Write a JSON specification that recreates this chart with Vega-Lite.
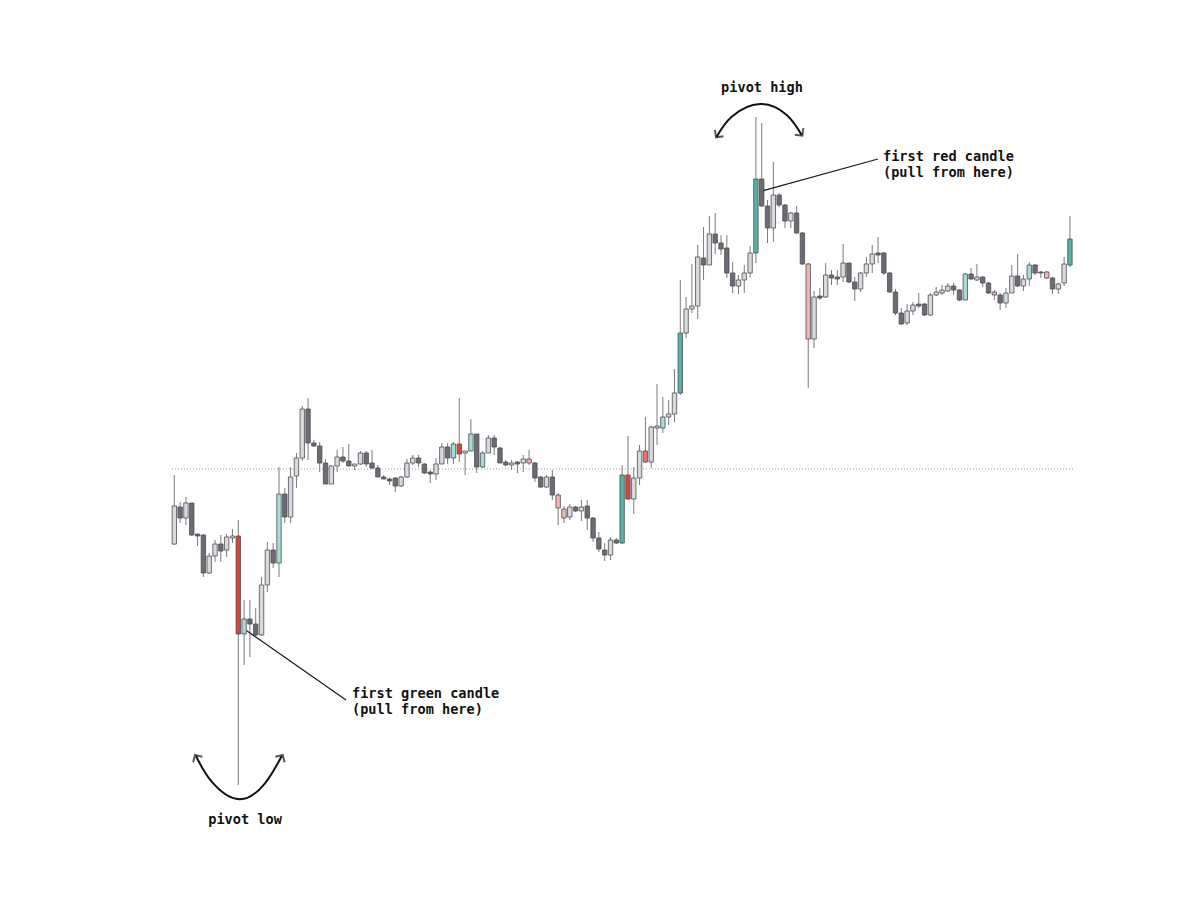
{
  "$schema": "https://vega.github.io/schema/vega-lite/v6.json",
  "width": 1200,
  "height": 901,
  "autosize": {"type": "none"},
  "padding": 0,
  "background": "#ffffff",
  "config": {"view": {"stroke": null}},
  "datasets": {
    "candles": [
      {"i":0,"o":456,"h":525,"l":455,"c":494,"k":"up"},
      {"i":1,"o":493,"h":498,"l":477,"c":482,"k":"down"},
      {"i":2,"o":482,"h":503,"l":475,"c":497,"k":"up"},
      {"i":3,"o":497,"h":497,"l":464,"c":465,"k":"down"},
      {"i":4,"o":466,"h":466,"l":454,"c":464,"k":"down"},
      {"i":5,"o":465,"h":466,"l":423,"c":427,"k":"down"},
      {"i":6,"o":427,"h":447,"l":426,"c":444,"k":"up"},
      {"i":7,"o":444,"h":460,"l":438,"c":456,"k":"up"},
      {"i":8,"o":456,"h":465,"l":438,"c":449,"k":"down"},
      {"i":9,"o":450,"h":466,"l":443,"c":463,"k":"up"},
      {"i":10,"o":462,"h":471,"l":457,"c":464,"k":"up"},
      {"i":11,"o":464,"h":480,"l":215,"c":366,"k":"red"},
      {"i":12,"o":366,"h":400,"l":335,"c":381,"k":"lteal"},
      {"i":13,"o":381,"h":400,"l":343,"c":376,"k":"down"},
      {"i":14,"o":376,"h":392,"l":364,"c":365,"k":"down"},
      {"i":15,"o":365,"h":423,"l":364,"c":415,"k":"up"},
      {"i":16,"o":415,"h":458,"l":408,"c":450,"k":"up"},
      {"i":17,"o":450,"h":457,"l":432,"c":437,"k":"down"},
      {"i":18,"o":437,"h":533,"l":423,"c":506,"k":"lteal"},
      {"i":19,"o":506,"h":512,"l":477,"c":483,"k":"down"},
      {"i":20,"o":483,"h":533,"l":477,"c":523,"k":"up"},
      {"i":21,"o":524,"h":547,"l":512,"c":542,"k":"up"},
      {"i":22,"o":542,"h":594,"l":539,"c":591,"k":"up"},
      {"i":23,"o":591,"h":602,"l":540,"c":557,"k":"down"},
      {"i":24,"o":557,"h":560,"l":553,"c":554,"k":"down"},
      {"i":25,"o":554,"h":558,"l":528,"c":537,"k":"down"},
      {"i":26,"o":537,"h":541,"l":516,"c":516,"k":"down"},
      {"i":27,"o":516,"h":535,"l":516,"c":534,"k":"up"},
      {"i":28,"o":534,"h":550,"l":528,"c":543,"k":"up"},
      {"i":29,"o":543,"h":553,"l":537,"c":539,"k":"down"},
      {"i":30,"o":539,"h":556,"l":534,"c":534,"k":"down"},
      {"i":31,"o":534,"h":536,"l":530,"c":536,"k":"up"},
      {"i":32,"o":536,"h":549,"l":535,"c":547,"k":"up"},
      {"i":33,"o":547,"h":549,"l":533,"c":536,"k":"down"},
      {"i":34,"o":537,"h":550,"l":531,"c":532,"k":"down"},
      {"i":35,"o":532,"h":535,"l":523,"c":523,"k":"down"},
      {"i":36,"o":523,"h":525,"l":521,"c":521,"k":"down"},
      {"i":37,"o":521,"h":522,"l":515,"c":519,"k":"down"},
      {"i":38,"o":522,"h":523,"l":508,"c":514,"k":"down"},
      {"i":39,"o":514,"h":524,"l":513,"c":523,"k":"up"},
      {"i":40,"o":523,"h":541,"l":522,"c":537,"k":"up"},
      {"i":41,"o":537,"h":545,"l":535,"c":542,"k":"up"},
      {"i":42,"o":542,"h":545,"l":533,"c":537,"k":"down"},
      {"i":43,"o":536,"h":537,"l":526,"c":527,"k":"down"},
      {"i":44,"o":528,"h":530,"l":517,"c":526,"k":"down"},
      {"i":45,"o":526,"h":542,"l":520,"c":536,"k":"up"},
      {"i":46,"o":536,"h":557,"l":536,"c":553,"k":"up"},
      {"i":47,"o":553,"h":557,"l":536,"c":542,"k":"down"},
      {"i":48,"o":542,"h":558,"l":536,"c":556,"k":"lteal"},
      {"i":49,"o":556,"h":602,"l":538,"c":546,"k":"red"},
      {"i":50,"o":547,"h":549,"l":525,"c":549,"k":"up"},
      {"i":51,"o":549,"h":581,"l":549,"c":566,"k":"lteal"},
      {"i":52,"o":566,"h":566,"l":527,"c":533,"k":"down"},
      {"i":53,"o":533,"h":549,"l":532,"c":547,"k":"lteal"},
      {"i":54,"o":547,"h":565,"l":547,"c":562,"k":"up"},
      {"i":55,"o":562,"h":565,"l":545,"c":553,"k":"down"},
      {"i":56,"o":552,"h":553,"l":537,"c":537,"k":"down"},
      {"i":57,"o":538,"h":540,"l":534,"c":535,"k":"down"},
      {"i":58,"o":535,"h":540,"l":530,"c":537,"k":"up"},
      {"i":59,"o":538,"h":539,"l":527,"c":536,"k":"down"},
      {"i":60,"o":537,"h":545,"l":528,"c":541,"k":"up"},
      {"i":61,"o":541,"h":550,"l":535,"c":537,"k":"lred"},
      {"i":62,"o":537,"h":538,"l":518,"c":522,"k":"down"},
      {"i":63,"o":523,"h":524,"l":512,"c":513,"k":"down"},
      {"i":64,"o":513,"h":525,"l":512,"c":523,"k":"up"},
      {"i":65,"o":523,"h":530,"l":500,"c":505,"k":"down"},
      {"i":66,"o":505,"h":507,"l":475,"c":492,"k":"lred"},
      {"i":67,"o":491,"h":494,"l":477,"c":482,"k":"lred"},
      {"i":68,"o":483,"h":496,"l":480,"c":493,"k":"up"},
      {"i":69,"o":493,"h":494,"l":488,"c":489,"k":"down"},
      {"i":70,"o":489,"h":500,"l":479,"c":493,"k":"up"},
      {"i":71,"o":494,"h":500,"l":470,"c":482,"k":"down"},
      {"i":72,"o":482,"h":483,"l":458,"c":462,"k":"down"},
      {"i":73,"o":462,"h":468,"l":448,"c":451,"k":"down"},
      {"i":74,"o":450,"h":457,"l":439,"c":445,"k":"down"},
      {"i":75,"o":445,"h":463,"l":440,"c":460,"k":"up"},
      {"i":76,"o":460,"h":462,"l":456,"c":457,"k":"down"},
      {"i":77,"o":457,"h":535,"l":456,"c":525,"k":"teal"},
      {"i":78,"o":525,"h":564,"l":500,"c":501,"k":"red"},
      {"i":79,"o":501,"h":533,"l":486,"c":522,"k":"up"},
      {"i":80,"o":522,"h":555,"l":515,"c":549,"k":"up"},
      {"i":81,"o":549,"h":583,"l":537,"c":538,"k":"mred"},
      {"i":82,"o":538,"h":574,"l":532,"c":573,"k":"up"},
      {"i":83,"o":572,"h":616,"l":555,"c":574,"k":"up"},
      {"i":84,"o":572,"h":603,"l":567,"c":583,"k":"lteal"},
      {"i":85,"o":583,"h":600,"l":575,"c":586,"k":"up"},
      {"i":86,"o":586,"h":631,"l":578,"c":607,"k":"up"},
      {"i":87,"o":607,"h":720,"l":605,"c":667,"k":"teal"},
      {"i":88,"o":667,"h":703,"l":662,"c":691,"k":"up"},
      {"i":89,"o":691,"h":736,"l":687,"c":694,"k":"up"},
      {"i":90,"o":694,"h":755,"l":681,"c":743,"k":"up"},
      {"i":91,"o":742,"h":773,"l":720,"c":735,"k":"down"},
      {"i":92,"o":735,"h":784,"l":735,"c":766,"k":"up"},
      {"i":93,"o":766,"h":787,"l":746,"c":757,"k":"down"},
      {"i":94,"o":757,"h":765,"l":745,"c":751,"k":"down"},
      {"i":95,"o":752,"h":765,"l":722,"c":727,"k":"down"},
      {"i":96,"o":727,"h":738,"l":707,"c":714,"k":"down"},
      {"i":97,"o":714,"h":725,"l":706,"c":720,"k":"up"},
      {"i":98,"o":720,"h":735,"l":707,"c":727,"k":"up"},
      {"i":99,"o":727,"h":754,"l":723,"c":747,"k":"up"},
      {"i":100,"o":747,"h":883,"l":737,"c":821,"k":"teal"},
      {"i":101,"o":821,"h":877,"l":793,"c":794,"k":"down"},
      {"i":102,"o":794,"h":800,"l":757,"c":772,"k":"down"},
      {"i":103,"o":772,"h":838,"l":758,"c":805,"k":"up"},
      {"i":104,"o":805,"h":807,"l":793,"c":795,"k":"down"},
      {"i":105,"o":795,"h":796,"l":772,"c":779,"k":"down"},
      {"i":106,"o":779,"h":788,"l":772,"c":787,"k":"up"},
      {"i":107,"o":787,"h":794,"l":766,"c":767,"k":"down"},
      {"i":108,"o":767,"h":768,"l":735,"c":736,"k":"down"},
      {"i":109,"o":736,"h":737,"l":612,"c":661,"k":"lred"},
      {"i":110,"o":661,"h":709,"l":652,"c":703,"k":"up"},
      {"i":111,"o":704,"h":712,"l":700,"c":702,"k":"down"},
      {"i":112,"o":703,"h":737,"l":702,"c":725,"k":"up"},
      {"i":113,"o":725,"h":730,"l":715,"c":722,"k":"down"},
      {"i":114,"o":723,"h":730,"l":715,"c":721,"k":"down"},
      {"i":115,"o":723,"h":756,"l":718,"c":737,"k":"up"},
      {"i":116,"o":737,"h":737,"l":717,"c":718,"k":"down"},
      {"i":117,"o":718,"h":723,"l":699,"c":711,"k":"down"},
      {"i":118,"o":711,"h":728,"l":708,"c":727,"k":"up"},
      {"i":119,"o":727,"h":743,"l":723,"c":736,"k":"up"},
      {"i":120,"o":736,"h":755,"l":727,"c":746,"k":"up"},
      {"i":121,"o":747,"h":763,"l":737,"c":745,"k":"down"},
      {"i":122,"o":747,"h":748,"l":725,"c":727,"k":"down"},
      {"i":123,"o":727,"h":728,"l":707,"c":708,"k":"down"},
      {"i":124,"o":708,"h":711,"l":685,"c":687,"k":"down"},
      {"i":125,"o":687,"h":692,"l":675,"c":676,"k":"down"},
      {"i":126,"o":677,"h":696,"l":675,"c":689,"k":"up"},
      {"i":127,"o":689,"h":698,"l":685,"c":695,"k":"up"},
      {"i":128,"o":696,"h":707,"l":692,"c":694,"k":"down"},
      {"i":129,"o":696,"h":697,"l":684,"c":685,"k":"down"},
      {"i":130,"o":685,"h":707,"l":684,"c":705,"k":"up"},
      {"i":131,"o":705,"h":713,"l":704,"c":708,"k":"up"},
      {"i":132,"o":707,"h":715,"l":705,"c":710,"k":"up"},
      {"i":133,"o":709,"h":717,"l":708,"c":714,"k":"up"},
      {"i":134,"o":714,"h":717,"l":705,"c":710,"k":"down"},
      {"i":135,"o":710,"h":711,"l":699,"c":700,"k":"down"},
      {"i":136,"o":700,"h":727,"l":700,"c":726,"k":"lteal"},
      {"i":137,"o":726,"h":732,"l":720,"c":721,"k":"down"},
      {"i":138,"o":720,"h":736,"l":719,"c":723,"k":"up"},
      {"i":139,"o":723,"h":724,"l":713,"c":717,"k":"down"},
      {"i":140,"o":717,"h":718,"l":706,"c":707,"k":"down"},
      {"i":141,"o":708,"h":710,"l":700,"c":705,"k":"lred"},
      {"i":142,"o":705,"h":707,"l":690,"c":697,"k":"down"},
      {"i":143,"o":697,"h":712,"l":692,"c":707,"k":"up"},
      {"i":144,"o":707,"h":735,"l":707,"c":724,"k":"up"},
      {"i":145,"o":724,"h":746,"l":713,"c":714,"k":"down"},
      {"i":146,"o":714,"h":725,"l":709,"c":721,"k":"up"},
      {"i":147,"o":721,"h":738,"l":714,"c":735,"k":"lteal"},
      {"i":148,"o":735,"h":736,"l":725,"c":727,"k":"down"},
      {"i":149,"o":728,"h":729,"l":722,"c":727,"k":"down"},
      {"i":150,"o":728,"h":729,"l":721,"c":722,"k":"lred"},
      {"i":151,"o":722,"h":723,"l":706,"c":711,"k":"down"},
      {"i":152,"o":711,"h":717,"l":706,"c":716,"k":"up"},
      {"i":153,"o":717,"h":743,"l":714,"c":736,"k":"up"},
      {"i":154,"o":735,"h":784,"l":733,"c":761,"k":"teal"}
    ],
    "level": [
      {"price": 531, "from": -0.4, "to": 154.8}
    ],
    "callouts": [
      {"name": "red", "i1": 101.27, "p1": 809.3, "i2": 120.99, "p2": 841},
      {"name": "green", "i1": 12.45, "p1": 369.3, "i2": 29.52, "p2": 300}
    ],
    "arcs": [
      {"arc": "high", "s": 0, "i": 93.26, "p": 863.3},
      {"arc": "high", "s": 1, "i": 95.84, "p": 883.3},
      {"arc": "high", "s": 2, "i": 100.71, "p": 896},
      {"arc": "high", "s": 3, "i": 105.3, "p": 885},
      {"arc": "high", "s": 4, "i": 107.87, "p": 865},
      {"arc": "low", "s": 0, "i": 3.73, "p": 244},
      {"arc": "low", "s": 1, "i": 6.43, "p": 218.3},
      {"arc": "low", "s": 2, "i": 11.18, "p": 200.7},
      {"arc": "low", "s": 3, "i": 15.59, "p": 216.7},
      {"arc": "low", "s": 4, "i": 18.47, "p": 244}
    ],
    "notesLeft": [
      {"i": 121.85, "p": 843, "t": "first red candle"},
      {"i": 121.85, "p": 827, "t": "(pull from here)"},
      {"i": 30.55, "p": 306, "t": "first green candle"},
      {"i": 30.55, "p": 290, "t": "(pull from here)"}
    ],
    "notesCenter": [
      {"i": 101.05, "p": 912, "t": "pivot high"},
      {"i": 12.16, "p": 180, "t": "pivot low"}
    ]
  },
  "layer": [
    {
      "data": {"name": "level"},
      "mark": {"type": "rule", "color": "#9a9a9a", "strokeWidth": 1, "strokeDash": [1, 2]},
      "encoding": {
        "x": {"field": "from", "type": "quantitative", "scale": {"domain": [-29.97, 176.36], "padding": 0}, "axis": null},
        "x2": {"field": "to"},
        "y": {"field": "price", "type": "quantitative", "scale": {"domain": [99, 1000]}, "axis": null}
      }
    },
    {
      "data": {"name": "candles"},
      "mark": {"type": "rule", "color": "#7a7a7a", "strokeWidth": 1},
      "encoding": {
        "x": {"field": "i", "type": "quantitative", "scale": {"domain": [-29.97, 176.36], "padding": 0}, "axis": null},
        "y": {"field": "l", "type": "quantitative", "scale": {"domain": [99, 1000]}, "axis": null},
        "y2": {"field": "h"}
      }
    },
    {
      "data": {"name": "candles"},
      "mark": {"type": "bar", "width": 4.4, "stroke": "#4d4d54", "strokeWidth": 0.8},
      "encoding": {
        "x": {"field": "i", "type": "quantitative", "scale": {"domain": [-29.97, 176.36], "padding": 0}, "axis": null},
        "y": {"field": "o", "type": "quantitative", "scale": {"domain": [99, 1000]}, "axis": null},
        "y2": {"field": "c"},
        "color": {
          "field": "k",
          "type": "nominal",
          "legend": null,
          "scale": {
            "domain": ["up", "down", "teal", "lteal", "red", "lred", "mred"],
            "range": ["#d9d9de", "#6c6c74", "#56b2a7", "#a7ddd6", "#d8463a", "#f4b4b0", "#e2776a"]
          }
        }
      }
    },
    {
      "data": {"name": "callouts"},
      "mark": {"type": "rule", "color": "#1a1a1a", "strokeWidth": 1.2},
      "encoding": {
        "x": {"field": "i1", "type": "quantitative", "scale": {"domain": [-29.97, 176.36], "padding": 0}, "axis": null},
        "x2": {"field": "i2"},
        "y": {"field": "p1", "type": "quantitative", "scale": {"domain": [99, 1000]}, "axis": null},
        "y2": {"field": "p2"}
      }
    },
    {
      "data": {"name": "arcs"},
      "mark": {"type": "line", "color": "#111111", "strokeWidth": 2, "interpolate": "natural"},
      "encoding": {
        "x": {"field": "i", "type": "quantitative", "scale": {"domain": [-29.97, 176.36], "padding": 0}, "axis": null},
        "y": {"field": "p", "type": "quantitative", "scale": {"domain": [99, 1000]}, "axis": null},
        "detail": {"field": "arc", "type": "nominal"},
        "order": {"field": "s", "type": "quantitative"}
      }
    },
    {
      "data": {"values": [{"i": 93.14, "p": 862.7}]},
      "mark": {"type": "point", "shape": "M-0.8,0.8L0,0L0.8,0.8", "size": 180, "filled": false, "stroke": "#111111", "strokeWidth": 2, "angle": 217},
      "encoding": {
        "x": {"field": "i", "type": "quantitative", "scale": {"domain": [-29.97, 176.36], "padding": 0}, "axis": null},
        "y": {"field": "p", "type": "quantitative", "scale": {"domain": [99, 1000]}, "axis": null}
      }
    },
    {
      "data": {"values": [{"i": 107.98, "p": 864.3}]},
      "mark": {"type": "point", "shape": "M-0.8,0.8L0,0L0.8,0.8", "size": 180, "filled": false, "stroke": "#111111", "strokeWidth": 2, "angle": 143},
      "encoding": {
        "x": {"field": "i", "type": "quantitative", "scale": {"domain": [-29.97, 176.36], "padding": 0}, "axis": null},
        "y": {"field": "p", "type": "quantitative", "scale": {"domain": [99, 1000]}, "axis": null}
      }
    },
    {
      "data": {"values": [{"i": 3.56, "p": 245}]},
      "mark": {"type": "point", "shape": "M-0.8,0.8L0,0L0.8,0.8", "size": 180, "filled": false, "stroke": "#111111", "strokeWidth": 2, "angle": 329},
      "encoding": {
        "x": {"field": "i", "type": "quantitative", "scale": {"domain": [-29.97, 176.36], "padding": 0}, "axis": null},
        "y": {"field": "p", "type": "quantitative", "scale": {"domain": [99, 1000]}, "axis": null}
      }
    },
    {
      "data": {"values": [{"i": 18.64, "p": 245}]},
      "mark": {"type": "point", "shape": "M-0.8,0.8L0,0L0.8,0.8", "size": 180, "filled": false, "stroke": "#111111", "strokeWidth": 2, "angle": 31},
      "encoding": {
        "x": {"field": "i", "type": "quantitative", "scale": {"domain": [-29.97, 176.36], "padding": 0}, "axis": null},
        "y": {"field": "p", "type": "quantitative", "scale": {"domain": [99, 1000]}, "axis": null}
      }
    },
    {
      "data": {"name": "notesLeft"},
      "mark": {"type": "text", "align": "left", "baseline": "middle", "font": "DejaVu Sans Mono", "fontWeight": "bold", "fontSize": 13.6, "color": "#111111"},
      "encoding": {
        "x": {"field": "i", "type": "quantitative", "scale": {"domain": [-29.97, 176.36], "padding": 0}, "axis": null},
        "y": {"field": "p", "type": "quantitative", "scale": {"domain": [99, 1000]}, "axis": null},
        "text": {"field": "t"}
      }
    },
    {
      "data": {"name": "notesCenter"},
      "mark": {"type": "text", "align": "center", "baseline": "middle", "font": "DejaVu Sans Mono", "fontWeight": "bold", "fontSize": 13.6, "color": "#111111"},
      "encoding": {
        "x": {"field": "i", "type": "quantitative", "scale": {"domain": [-29.97, 176.36], "padding": 0}, "axis": null},
        "y": {"field": "p", "type": "quantitative", "scale": {"domain": [99, 1000]}, "axis": null},
        "text": {"field": "t"}
      }
    }
  ]
}
